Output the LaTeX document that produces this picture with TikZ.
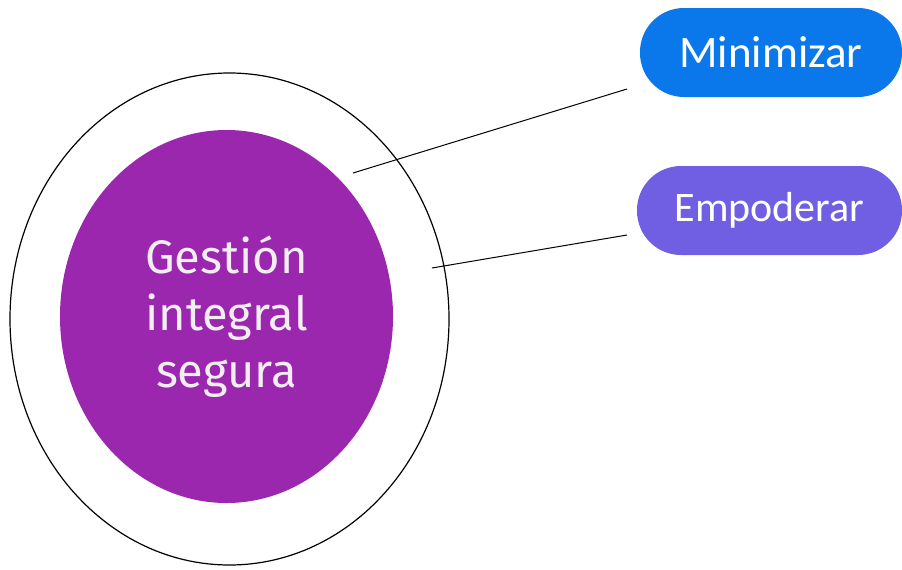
\documentclass[tikz,border=0pt]{standalone}
\usepackage{fontspec}
\setmainfont{Fira Sans}
\newfontfamily\boxfont{Carlito}
\usepackage{xcolor}
\usetikzlibrary{shapes.geometric}

\definecolor{zielblau}{HTML}{0A78EA}
\definecolor{zielviolett}{HTML}{715FE3}
\definecolor{kernlila}{HTML}{9A27AE}
\definecolor{textweiss}{HTML}{F2EEF2}

\begin{document}
\begin{tikzpicture}[x=1pt,y=-1pt,
    ring/.style={ellipse, draw=black, line width=1.2pt, minimum width=439pt, minimum height=492pt, inner sep=0pt},
    kern/.style={ellipse, fill=kernlila, minimum width=333pt, minimum height=373pt, inner sep=0pt, text=textweiss, font=\fontsize{47}{57}\selectfont, align=center},
    ziel/.style={rectangle, rounded corners=44pt, minimum height=89pt, text=white}]

\useasboundingbox (0,0) rectangle (902,570);
\node  [ring] (R) at (229.5,319){};
\node  [kern] (K) at (226.5,316.5){Gesti\'on\\integral\\segura};
\node  [ziel, fill=zielblau, minimum width=262pt, font=\boxfont\fontsize{45}{52}\selectfont] (M) at (771,52.5){Minimizar};
\node  [ziel, fill=zielviolett, minimum width=265pt, font=\boxfont\fontsize{42}{50}\selectfont] (E) at (769.5,210.5){Empoderar};
\coordinate (Ma) at (353,173);
\coordinate (Mb) at (627,89);
\coordinate (Ea) at (432,268);
\coordinate (Eb) at (627,235);
\draw[line width=1pt] (Ma) -- (Mb);
\draw[line width=1pt] (Ea) -- (Eb);
\end{tikzpicture}
\end{document}
